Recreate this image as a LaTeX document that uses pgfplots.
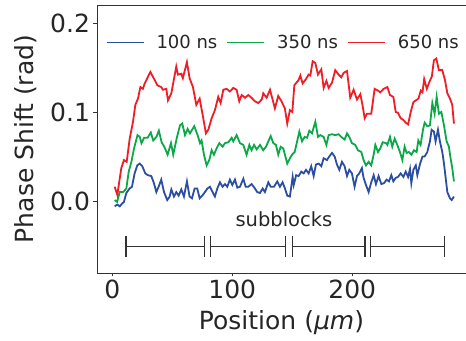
\documentclass[border=0pt]{standalone}
\usepackage{pgfplots}
\pgfplotsset{compat=1.18}
\usepackage{pgfplotstable}
\usepackage{fontspec}
\setmainfont{DejaVu Sans}
\definecolor{cblue}{HTML}{2B4EA2}
\definecolor{cgreen}{HTML}{0BA84A}
\definecolor{cred}{HTML}{EE1D26}
\definecolor{spine}{HTML}{333333}
\definecolor{txt}{HTML}{262626}
\pgfplotstableread{
x y
2 -0.006
4.2 -0.004
6.2 -0.006
8.1 -0.003
9.7 -0.001
11.7 0.009
14.4 0.014
16.4 0.016
18.6 0.031
20.8 0.040
22.8 0.042
25 0.039
27.5 0.031
29.7 0.029
32.5 0.028
34.7 0.020
36.7 0.010
38.6 0.016
40.8 0.024
43.1 0.010
45.8 0.001
47.8 0.005
49.2 0.013
51.4 0.005
53.3 0.010
55.3 0.006
57.5 0.013
59.7 0.005
62.2 0.022
64.4 0.005
66.4 0.003
68.6 0.014
70.8 0.014
72.8 0.003
75 0.006
77.2 0.010
79.2 0.014
81.4 0.016
83.6 0.010
85.5 0.005
87.5 0.014
89.7 0.021
91.9 0.016
93.9 0.019
95.8 0.016
98 0.024
100 0.018
102.2 0.024
104.2 0.015
106.4 0.016
109.2 0.025
111.1 0.016
113.3 0.016
116.1 0.019
118.9 0.014
120.8 0.010
123.1 0.009
125.3 0.014
127.2 0.010
130 0.021
132 0.016
134.7 0.016
137.5 0.022
139.7 0.016
141.9 0.021
143.9 0.014
145.8 0.006
148 0.005
150.3 0.027
151.2 0.018
153.2 0.029
155.3 0.028
157.5 0.033
159.5 0.031
161.4 0.035
163.6 0.031
165.8 0.039
167.8 0.028
169.7 0.041
172 0.042
174.2 0.039
176.1 0.048
178.9 0.046
180.8 0.050
183.1 0.054
185.3 0.050
187.2 0.041
189.2 0.035
191.4 0.044
193.6 0.039
195.6 0.028
197.5 0.035
199.7 0.031
201.9 0.016
203.9 0.028
205.8 0.031
208 0.037
209.4 0.026
211.4 0.018
213.6 0.010
215.8 0.021
217.8 0.029
219.7 0.019
221.9 0.028
224.2 0.019
226.4 0.020
228.6 0.024
230.6 0.022
232.5 0.029
234.2 0.022
236.2 0.026
238.1 0.027
240.3 0.031
242.6 0.027
244.5 0.033
246.5 0.027
248.1 0.036
249.2 0.020
250.9 0.035
252.9 0.040
254.2 0.029
256.5 0.042
258.5 0.050
260.3 0.050
262.5 0.055
264.7 0.067
266.1 0.080
268 0.078
269.4 0.067
271.4 0.080
273 0.067
275 0.055
276.4 0.042
277.8 0.026
279.2 0.010
281.4 0.003
282.8 0.001
284.7 0.005
}\blue
\pgfplotstableread{
x y
2 0.001
4 -0.001
6.2 0.010
9 0.010
11.7 0.014
13.7 0.033
15.9 0.044
18.1 0.059
21 0.074
22.9 0.072
24.3 0.065
26.5 0.071
29.4 0.071
32.1 0.077
34.1 0.068
36.8 0.072
38.8 0.079
41.1 0.066
43.3 0.061
46.1 0.052
48.9 0.065
50.8 0.052
53.6 0.070
56.4 0.085
58.3 0.087
60.6 0.074
62.8 0.081
64.7 0.076
68.3 0.084
71.1 0.074
73.1 0.065
74.4 0.068
76.4 0.052
78.6 0.040
80.8 0.046
82.8 0.057
84.7 0.052
86.9 0.059
89.2 0.065
91.9 0.061
93.9 0.065
96.7 0.066
99.5 0.071
100.8 0.067
103.6 0.074
106.4 0.065
109.2 0.063
111.9 0.052
114.2 0.063
116.1 0.057
118.1 0.063
120.3 0.058
123.1 0.063
125.8 0.057
128.1 0.061
130 0.067
132 0.073
134.2 0.065
136.4 0.063
138.3 0.052
140.3 0.061
142.5 0.059
145.8 0.042
148 0.048
150.3 0.053
152 0.055
154 0.067
155.9 0.078
158.1 0.067
160.3 0.072
162.3 0.071
164.2 0.079
166.4 0.076
169.2 0.089
171.4 0.072
173.3 0.074
176.1 0.072
178.4 0.063
180.3 0.074
183.1 0.075
185.8 0.074
188.6 0.075
190.8 0.072
193.6 0.069
195.6 0.076
197.5 0.072
199.7 0.065
202.5 0.063
204.7 0.057
207.5 0.055
209.4 0.046
211.4 0.040
213.6 0.044
215.8 0.040
217.8 0.052
219.2 0.063
221.4 0.055
223.3 0.059
225.3 0.066
228.1 0.065
229.2 0.063
231.4 0.072
233.3 0.061
235.3 0.070
237.5 0.063
239.7 0.055
241.7 0.046
243.6 0.061
245.3 0.054
247.2 0.055
249.2 0.052
251.4 0.057
253.6 0.055
255 0.068
256.9 0.063
258.9 0.080
260.3 0.088
262.5 0.084
264.7 0.085
266.7 0.110
268.6 0.098
270.3 0.117
272.2 0.098
274.2 0.100
276.4 0.085
278.6 0.067
280.5 0.061
281.9 0.048
283.3 0.037
284.7 0.022
}\green
\pgfplotstableread{
x y
2 0.016
4.2 0.007
7.5 0.037
9.75 0.046
12 0.044
14.5 0.070
17.25 0.089
19.2 0.108
21.4 0.115
23.4 0.128
25.5 0.126
27 0.132
31.7 0.145
35.3 0.136
37.5 0.130
40.8 0.128
42.2 0.125
45 0.126
46.4 0.113
49.2 0.121
53.3 0.151
54.7 0.142
57.5 0.143
58.8 0.138
62.2 0.156
64.4 0.138
67.2 0.128
70 0.108
72.8 0.115
75.8 0.093
78 0.076
80 0.080
82.8 0.093
85.5 0.102
88.3 0.117
90.3 0.110
92.5 0.125
95.3 0.126
98 0.123
100.8 0.127
103.6 0.125
105.8 0.112
107.8 0.119
110.6 0.116
113.3 0.119
116 0.116
118.9 0.112
121.7 0.110
124.5 0.114
125.8 0.121
128.6 0.116
131.4 0.125
133.6 0.114
135.5 0.104
138.3 0.118
141 0.112
143.8 0.104
145.8 0.087
148 0.102
150 0.100
151.7 0.130
155.3 0.136
156.7 0.141
158.6 0.132
161.4 0.137
163.6 0.142
165 0.141
167 0.157
169.2 0.155
171.4 0.142
174.2 0.148
176.1 0.127
178.4 0.135
180.3 0.127
183.1 0.133
185.8 0.147
188.6 0.142
190.8 0.139
192.8 0.144
195.6 0.146
198.3 0.116
201.1 0.125
203.9 0.114
206.7 0.120
208.6 0.107
210.3 0.093
212.2 0.098
215.8 0.098
218.6 0.126
221.4 0.124
223.3 0.122
226.1 0.126
229.2 0.128
231.4 0.119
234.2 0.117
236.2 0.100
238.1 0.099
240.3 0.093
242.6 0.091
244.5 0.088
246.5 0.086
248.7 0.100
250.9 0.111
252.9 0.113
255.1 0.115
257.1 0.124
258.5 0.122
259.9 0.137
262.1 0.126
264 0.133
266.3 0.140
268 0.158
270 0.160
272.2 0.147
275 0.147
277.2 0.136
279.2 0.121
281.4 0.115
283.3 0.108
284.7 0.087
}\red
\begin{document}
\begin{tikzpicture}
\begin{axis}[
  name=ax,
  scale only axis,
  width=369pt, height=268pt,
  xmin=-12.75, xmax=294.75,
  ymin=-0.0809, ymax=0.2202,
  axis x line=box, axis y line=left,
  axis line style={-, draw=spine, line width=0.9pt},
  xtick pos=bottom, ytick pos=left,
  tick align=outside,
  major tick length=3.5pt,
  tick style={draw=spine, line width=0.9pt},
  xtick={0,100,200}, ytick={0,0.1,0.2},
  yticklabel style={/pgf/number format/.cd, fixed, fixed zerofill, precision=1},
  /pgf/number format/assume math mode=true,
  ticklabel style={font=\fontsize{25}{30}\selectfont, text=txt},
  xlabel={Position (\textit{μm})},
  ylabel={Phase Shift (rad)},
  label style={font=\fontsize{25}{30}\selectfont, text=txt},
  xlabel style={yshift=-5pt},
  ylabel style={yshift=7pt},
  legend columns=3,
  legend style={draw=none, fill=none, at={(rel axis cs:0.015,0.86)}, anchor=west,
    font=\fontsize{18}{22}\selectfont, text=txt,
    /tikz/every odd column/.append style={column sep=10pt},
    /tikz/every even column/.append style={column sep=7pt}},
  legend image code/.code={\draw[#1] (0pt,0pt) -- (37pt,0pt);},
]
\addplot[cblue, line width=1.8pt] table {\blue};
\addlegendentry{100 ns}
\addplot[cgreen, line width=1.8pt] table {\green};
\addlegendentry{350 ns}
\addplot[cred, line width=1.8pt] table {\red};
\addlegendentry{650 ns}
\addplot[spine, line width=1.1pt, mark=|, mark size=10.5pt, mark options={solid, line width=1.1pt}, forget plot]
  coordinates {(11.4,-0.0513) (76.7,-0.0513)};
\addplot[spine, line width=1.1pt, mark=|, mark size=10.5pt, mark options={solid, line width=1.1pt}, forget plot]
  coordinates {(81.7,-0.0513) (144.7,-0.0513)};
\addplot[spine, line width=1.1pt, mark=|, mark size=10.5pt, mark options={solid, line width=1.1pt}, forget plot]
  coordinates {(150,-0.0513) (210.6,-0.0513)};
\addplot[spine, line width=1.1pt, mark=|, mark size=10.5pt, mark options={solid, line width=1.1pt}, forget plot]
  coordinates {(215,-0.0513) (276.7,-0.0513)};
\node[font=\fontsize{19.5}{23}\selectfont, text=txt] at (axis cs:143,-0.020) {subblocks};
\end{axis}
\pgfresetboundingbox
\path ([xshift=-97pt,yshift=-68pt]ax.south west) rectangle ([yshift=5pt]ax.north east);
\end{tikzpicture}
\end{document}
